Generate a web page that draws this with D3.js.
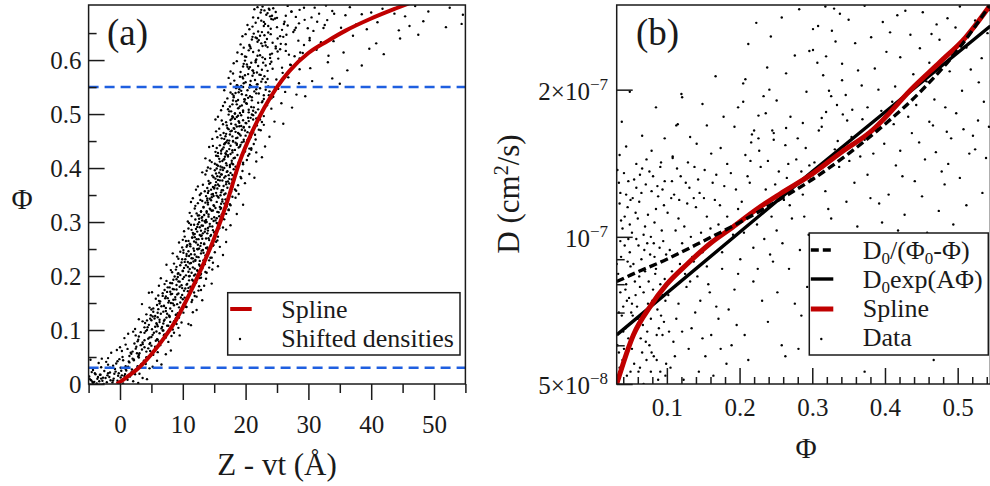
<!DOCTYPE html>
<html>
<head>
<meta charset="utf-8">
<script src="https://cdn.jsdelivr.net/npm/d3@7"></script>
<style>
  body { margin: 0; background: #fff; }
</style>
</head>
<body>
<svg id="chart" width="990" height="486"></svg>
<script>
// ---------- panel (a) data ----------
const zDomain = [-5, 55];
const phiDomainA = [0, 0.702];
const zTicks = [0, 10, 20, 30, 40, 50];
const zMinorTicks = [-5, 5, 15, 25, 35, 45, 55];
const phiTicksA = [0, 0.1, 0.2, 0.3, 0.4, 0.5, 0.6];
const phiMinorTicksA = [0.05, 0.15, 0.25, 0.35, 0.45, 0.55, 0.65];
const phiCutoffs = [0.03, 0.55];

// red spline
const splineZ = [-0.5, 1, 3, 5, 7, 9, 11, 13, 15, 17, 19, 21, 23, 25, 27, 30, 33, 36, 40, 44, 46];
const splinePhi = [0, 0.012, 0.03, 0.055, 0.085, 0.12, 0.165, 0.215, 0.27, 0.335, 0.41, 0.466, 0.512, 0.55, 0.58, 0.613, 0.635, 0.655, 0.677, 0.696, 0.705];

// shifted densities [z, phi], estimated band by band
const shiftedDensities = [
  [-3.2,.017],[-0.4,.006],[1.8,.021],[-4.8,.009],[-1.7,.013],[2.9,.002],[-2.5,.024],[0.7,.015],[-4.1,.004],[-0.9,.019],[3.6,.011],[-3.7,.001],[1.2,.008],[-2.0,.016],[-4.5,.022],[0.1,.012],[-1.2,.003],[2.4,.018],[-3.0,.010],[-4.9,.014],[1.0,.025],[-2.8,.006],[-0.2,.020],[4.3,.009],[-1.5,.007],[-3.9,.018],[0.5,.001],[-2.3,.011],[1.6,.014],[-4.3,.002],[-0.7,.023],[2.1,.005],[-3.5,.013],[-1.9,.020],[0.3,.016],[-4.6,.007],[3.1,.019],[-2.6,.000],[-1.0,.010],[-3.3,.005],
  [1.3,.032],[-2.9,.047],[4.7,.029],[-0.6,.038],[2.2,.044],[-4.3,.026],[0.4,.050],[3.4,.035],[-1.6,.030],[5.9,.043],[-3.4,.039],[1.9,.027],[-0.1,.046],[2.8,.033],[-2.2,.041],[4.1,.037],[0.9,.028],[-4.7,.045],[3.0,.049],[-1.1,.034],[6.6,.036],[1.5,.040],[-3.0,.031],[2.5,.026],[-0.4,.042],[5.2,.032],[-1.9,.048],[3.8,.043],[0.1,.030],[2.0,.047],
  [2.6,.069],[4.9,.053],[0.3,.061],[6.4,.072],[1.8,.056],[3.5,.064],[-1.4,.058],[5.6,.067],[2.9,.051],[0.9,.073],[4.2,.060],[7.3,.055],[1.2,.065],[3.1,.057],[5.0,.071],[-0.5,.063],[2.3,.075],[6.0,.059],[3.9,.068],[1.5,.052],[4.5,.066],[8.1,.062],[2.0,.060],[3.3,.072],[5.3,.054],[0.0,.068],[4.7,.074],[2.7,.057],
  [5.2,.091],[2.8,.079],[7.3,.086],[4.1,.098],[6.0,.082],[1.3,.093],[3.6,.077],[8.6,.095],[5.7,.080],[3.0,.088],[6.8,.099],[4.5,.084],[2.1,.097],[7.7,.078],[5.0,.087],[9.5,.090],[3.9,.081],[6.3,.094],[0.7,.085],[4.8,.076],[7.1,.092],[3.3,.096],[5.9,.083],[8.2,.089],[4.3,.100],[6.5,.077],[2.5,.090],[5.4,.095],
  [7.0,.117],[4.4,.105],[8.9,.122],[5.9,.110],[3.0,.120],[6.6,.103],[9.8,.114],[5.2,.125],[7.7,.108],[4.0,.113],[8.4,.101],[6.3,.119],[10.9,.111],[5.6,.106],[7.4,.123],[3.6,.116],[9.3,.104],[6.9,.112],[4.8,.121],[8.0,.115],[2.4,.102],[6.0,.107],[7.9,.124],[5.0,.118],[11.3,.109],[9.0,.120],
  [6.3,.149],[9.2,.131],[5.0,.138],[7.8,.127],[10.5,.143],[6.9,.134],[8.6,.146],[4.2,.129],[7.3,.141],[9.7,.136],[5.6,.126],[8.1,.150],[11.6,.133],[6.6,.144],[7.5,.130],[10.1,.147],[5.3,.140],[8.9,.128],[12.2,.137],[7.0,.145],[9.4,.142],[6.0,.132],[3.5,.148],[8.3,.135],
  [9.1,.166],[6.4,.153],[10.8,.172],[7.6,.159],[5.1,.170],[8.5,.156],[11.9,.163],[7.1,.174],[9.6,.151],[6.8,.168],[10.3,.160],[8.0,.171],[13.1,.155],[7.3,.162],[9.0,.175],[5.7,.158],[11.4,.152],[8.3,.167],[6.1,.164],[10.0,.157],[4.6,.169],[8.8,.161],[12.5,.173],[7.8,.154],[9.9,.165],
  [8.4,.176],[11.5,.193],[7.1,.185],[10.2,.198],[12.6,.181],[9.3,.190],[6.5,.196],[10.9,.178],[8.0,.187],[13.7,.195],[9.8,.183],[11.1,.200],[7.6,.179],[12.1,.188],[9.0,.194],[10.6,.184],[8.7,.199],[14.6,.186],[10.4,.177],[7.4,.191],[12.9,.197],[9.5,.180],[11.8,.189],[6.2,.182],[11.0,.192],
  [9.6,.202],[12.7,.219],[8.1,.211],[11.3,.224],[13.8,.206],[10.2,.215],[7.4,.221],[12.0,.203],[9.0,.217],[14.7,.212],[10.9,.208],[11.8,.201],[8.6,.223],[13.1,.214],[10.5,.220],[12.4,.209],[9.3,.205],[15.6,.218],[11.1,.213],[8.3,.207],[13.5,.222],[10.0,.210],[12.9,.204],[9.8,.225],[11.6,.216],
  [13.0,.247],[10.4,.231],[11.9,.240],[9.1,.236],[14.2,.229],[12.3,.250],[10.8,.226],[15.1,.244],[11.4,.233],[8.4,.242],[13.6,.238],[12.7,.228],[10.1,.248],[11.0,.237],[14.6,.234],[9.6,.245],[12.0,.230],[16.4,.239],[13.3,.243],[10.6,.241],[11.7,.227],[9.3,.232],[12.5,.235],[14.0,.249],[10.9,.246],
  [11.2,.255],[14.1,.270],[9.4,.262],[12.6,.251],[10.3,.273],[13.4,.259],[15.5,.266],[11.8,.264],[10.7,.257],[13.0,.275],[12.2,.268],[9.9,.253],[14.8,.256],[11.5,.271],[12.9,.261],[10.0,.267],[16.9,.263],[13.7,.252],[11.1,.260],[14.4,.274],[12.4,.258],[10.5,.265],[13.1,.269],[15.9,.254],[11.9,.272],
  [12.4,.296],[15.0,.281],[10.9,.288],[13.6,.299],[11.7,.277],[14.3,.292],[12.9,.284],[16.4,.290],[11.3,.295],[13.9,.279],[12.1,.287],[15.6,.297],[10.2,.283],[14.8,.285],[13.2,.293],[11.6,.280],[17.6,.294],[12.7,.276],[14.0,.289],[11.0,.298],[13.5,.282],[15.3,.278],[12.3,.291],[16.9,.286],[13.8,.300],
  [13.1,.303],[15.7,.318],[11.4,.311],[14.4,.323],[12.6,.306],[16.2,.314],[13.8,.320],[10.8,.301],[15.0,.309],[12.2,.316],[14.9,.302],[17.3,.322],[13.4,.313],[11.9,.325],[16.6,.305],[14.1,.310],[12.9,.319],[15.4,.307],[18.6,.315],[13.7,.304],[11.1,.317],[14.6,.321],[12.4,.312],[16.0,.324],[13.0,.308],
  [14.6,.346],[12.0,.330],[16.3,.338],[13.3,.327],[15.4,.349],[12.8,.341],[17.5,.333],[14.0,.336],[11.6,.344],[15.9,.328],[13.7,.348],[16.8,.342],[12.4,.335],[14.9,.331],[13.1,.339],[18.4,.345],[15.2,.326],[12.7,.350],[16.1,.334],[14.3,.343],[11.3,.337],[17.0,.329],[13.9,.340],[19.6,.332],[15.6,.347],
  [13.5,.357],[16.9,.370],[14.8,.352],[12.4,.366],[17.7,.361],[15.3,.374],[13.9,.363],[16.1,.355],[14.2,.371],[18.5,.358],[15.8,.367],[12.9,.353],[17.2,.375],[14.5,.360],[16.6,.351],[13.2,.369],[15.0,.364],[19.9,.372],[16.4,.359],[14.0,.354],[17.9,.365],[15.5,.362],[12.1,.360],[18.9,.352],[15.2,.368],
  [15.1,.396],[17.4,.380],[13.6,.388],[16.3,.377],[18.6,.393],[14.4,.399],[16.8,.385],[15.6,.378],[13.1,.392],[17.9,.387],[14.9,.383],[16.0,.397],[19.3,.381],[15.3,.390],[14.1,.376],[17.1,.394],[20.6,.389],[16.6,.400],[14.7,.386],[18.2,.379],[15.9,.384],[13.8,.395],[17.6,.391],[21.4,.382],[16.2,.388],
  [16.0,.403],[18.3,.419],[14.6,.411],[17.2,.424],[15.4,.406],[19.1,.415],[16.7,.421],[14.0,.401],[17.8,.409],[15.8,.417],[18.8,.404],[16.3,.413],[20.4,.423],[15.1,.408],[17.5,.402],[13.6,.418],[19.6,.410],[16.9,.425],[14.3,.414],[18.0,.407],[15.6,.422],[21.7,.412],[17.0,.405],[16.5,.416],[22.6,.420],
  [17.3,.446],[15.2,.430],[18.9,.438],[16.1,.427],[19.7,.449],[14.8,.441],[17.9,.433],[16.6,.444],[20.6,.436],[15.6,.428],[18.4,.447],[17.0,.431],[14.2,.439],[19.2,.443],[16.3,.435],[21.7,.429],[18.0,.450],[15.9,.442],[17.6,.426],[23.1,.440],[16.9,.448],[19.9,.432],[15.4,.437],[18.6,.445],[20.9,.434],
  [16.2,.455],[19.4,.471],[17.5,.462],[15.3,.468],[20.3,.452],[18.1,.474],[16.8,.459],[21.2,.466],[17.1,.451],[19.0,.463],[15.8,.473],[18.7,.456],[22.4,.470],[16.5,.465],[20.0,.460],[14.7,.454],[17.8,.469],[19.7,.475],[16.0,.461],[23.8,.458],[18.4,.467],[21.6,.453],[17.3,.472],[15.5,.457],[20.7,.464],
  [18.0,.494],[16.4,.481],[20.5,.487],[17.3,.499],[19.3,.478],[21.7,.492],[16.9,.485],[18.8,.497],[22.9,.480],[17.6,.489],[20.1,.483],[15.6,.495],[19.7,.476],[18.3,.491],[24.6,.486],[17.0,.479],[21.2,.498],[16.2,.488],[19.0,.484],[20.8,.493],[26.0,.482],[18.6,.477],[17.9,.496],[22.3,.490],[15.2,.490],
  [17.7,.505],[20.2,.519],[18.9,.511],[16.7,.522],[21.6,.503],[19.4,.516],[17.2,.509],[22.7,.524],[18.3,.501],[20.9,.513],[16.1,.507],[19.8,.523],[24.1,.510],[18.6,.518],[21.2,.506],[17.5,.514],[25.7,.520],[19.1,.502],[23.3,.517],[18.0,.525],[20.5,.508],[27.4,.512],[16.4,.515],[22.0,.521],[19.6,.504],
  [18.5,.548],[21.0,.531],[17.6,.540],[19.9,.527],[23.2,.545],[18.1,.534],[20.6,.549],[22.1,.538],[17.1,.529],[19.3,.543],[24.4,.532],[18.8,.526],[21.7,.546],[20.1,.535],[26.3,.541],[17.9,.537],[22.9,.528],[19.6,.550],[28.1,.536],[21.4,.542],[16.6,.544],[20.4,.530],[25.2,.547],[18.4,.539],[29.5,.533],[23.7,.535],
  [19.1,.569],[21.8,.555],[18.2,.562],[20.4,.574],[23.6,.551],[19.6,.566],[22.5,.560],[17.6,.556],[21.1,.571],[24.9,.564],[18.7,.553],[20.0,.559],[26.8,.568],[22.2,.573],[19.3,.552],[17.3,.567],[21.5,.563],[28.5,.557],[20.7,.554],[23.0,.570],[18.0,.575],[30.6,.561],[19.9,.572],[25.6,.558],[33.8,.566],[22.7,.565],[35.0,.556],
  [22.0,.589],[19.2,.578],[24.1,.597],[20.5,.584],[18.1,.594],[21.3,.576],[27.2,.591],[19.9,.599],[22.6,.582],[19.6,.588],[23.5,.580],[20.9,.595],[30.3,.585],[20.2,.592],[21.8,.577],[18.6,.598],[25.8,.586],[21.1,.581],[19.7,.593],[23.2,.590],[17.6,.579],[21.6,.596],[28.6,.583],[20.7,.587],[23.9,.593],[33.1,.596],[36.2,.581],[38.5,.590],
  [20.8,.622],[23.9,.604],[19.4,.611],[26.4,.617],[21.7,.601],[24.8,.625],[22.3,.609],[29.1,.613],[20.1,.606],[25.5,.620],[23.1,.602],[21.2,.615],[27.8,.607],[19.7,.623],[24.2,.612],[31.3,.619],[22.7,.605],[20.5,.618],[26.9,.610],[23.5,.624],[35.6,.614],[21.9,.608],[28.6,.603],[39.7,.621],[25.1,.616],[18.7,.614],[33.2,.608],[42.0,.611],
  [23.4,.639],[20.6,.628],[26.5,.647],[21.9,.634],[19.5,.644],[22.7,.626],[30.2,.641],[21.3,.649],[24.3,.632],[21.0,.638],[25.6,.630],[22.3,.645],[34.0,.635],[21.6,.642],[23.2,.627],[20.0,.648],[28.4,.636],[22.5,.631],[21.1,.643],[25.1,.640],[19.2,.629],[23.0,.646],[32.0,.633],[22.1,.637],[26.0,.643],[37.1,.645],[40.8,.631],[44.6,.640],[47.5,.647],[29.3,.628],
  [22.5,.673],[25.8,.656],[21.1,.662],[28.5,.668],[23.6,.651],[31.4,.671],[20.6,.657],[26.7,.664],[24.4,.675],[22.0,.653],[35.2,.660],[27.6,.652],[23.1,.667],[41.0,.670],[29.9,.659],[21.6,.669],[25.0,.661],[33.0,.674],[44.4,.655],[24.0,.658],[37.6,.666],[48.3,.672],[22.9,.663],[30.8,.654],[51.9,.661],[26.2,.671],[39.3,.657],[54.4,.667],[20.3,.665],[46.1,.663],[28.0,.660],[32.6,.665],
  [24.8,.689],[22.0,.678],[29.3,.697],[23.3,.684],[21.4,.694],[24.1,.676],[33.8,.691],[22.7,.699],[26.4,.682],[22.4,.688],[28.0,.680],[23.7,.695],[38.5,.685],[23.0,.692],[24.7,.677],[21.9,.698],[31.7,.686],[23.9,.681],[22.5,.693],[27.3,.690],[21.2,.679],[24.4,.696],[35.9,.683],[23.5,.687],[28.6,.693],[41.8,.695],[45.4,.681],[49.1,.690],[52.5,.697],[54.6,.684],[30.5,.679],[40.0,.688],[47.0,.700],[36.6,.698],[43.7,.686],[32.8,.701]
];

// extra points in the dense core of the band
const shiftedDensitiesCore = [
  [-4.4,.0042],[-2.7,.0118],[-1.1,.0065],[0.8,.0183],[-3.6,.0097],[-0.3,.0152],[1.9,.0227],[-4.0,.0201],[-2.1,.0033],[0.2,.0246],[-1.6,.0214],[2.7,.0289],[-3.1,.0170],[0.9,.0331],[-0.8,.0278],[3.4,.0372],[1.4,.0416],[-1.9,.0358],[2.2,.0453],[4.2,.0497],[0.5,.0440],[3.0,.0539],[1.7,.0581],[4.8,.0612],[2.5,.0655],[5.6,.0693],[3.6,.0738],[6.2,.0784],[2.9,.0821],[4.7,.0862],[7.0,.0905],[3.9,.0947],[5.8,.0972],[6.9,.0991],
  [5.1,.1013],[8.2,.1027],[3.9,.1049],[6.7,.1058],[7.5,.1081],[4.6,.1096],[9.0,.1112],[5.8,.1125],[6.3,.1147],[8.6,.1161],[4.3,.1178],[7.1,.1190],[5.5,.1212],[9.4,.1229],[6.0,.1235],[7.9,.1258],[4.9,.1274],[8.9,.1283],[6.5,.1301],[10.1,.1322],[5.3,.1337],[7.3,.1351],[9.6,.1369],[6.1,.1386],[8.0,.1398],[4.7,.1415],[10.6,.1427],[7.0,.1443],[5.9,.1462],[9.1,.1479],[8.4,.1494],
  [7.7,.1508],[10.4,.1521],[6.2,.1540],[11.5,.1556],[8.8,.1567],[7.2,.1589],[9.7,.1601],[12.2,.1618],[6.8,.1632],[10.9,.1649],[8.1,.1663],[9.3,.1677],[11.8,.1695],[7.5,.1706],[10.2,.1729],[12.9,.1741],[8.6,.1753],[9.9,.1776],[7.9,.1789],[11.2,.1802],[13.4,.1820],[9.0,.1834],[10.7,.1851],[8.3,.1867],[12.1,.1880],[9.5,.1896],[11.6,.1914],[8.5,.1932],[10.0,.1947],[12.7,.1963],[9.2,.1981],[11.0,.1995],
  [10.5,.2012],[12.8,.2024],[9.2,.2043],[11.4,.2061],[13.6,.2075],[10.0,.2090],[12.3,.2108],[8.9,.2119],[11.9,.2137],[14.2,.2156],[10.8,.2168],[13.0,.2187],[9.6,.2199],[12.6,.2213],[11.1,.2234],[14.8,.2246],[10.3,.2262],[12.0,.2281],[13.3,.2294],[9.9,.2310],[11.6,.2327],[14.4,.2339],[12.2,.2356],[10.6,.2372],[13.8,.2388],[11.3,.2403],[12.9,.2419],[10.1,.2431],[14.0,.2452],[11.8,.2467],[13.2,.2484],[12.4,.2497],
  [11.7,.2511],[13.9,.2529],[10.6,.2540],[12.8,.2558],[14.9,.2573],[11.2,.2586],[13.4,.2602],[12.1,.2620],[15.3,.2634],[10.9,.2651],[14.2,.2665],[12.5,.2683],[13.7,.2694],[11.5,.2716],[15.6,.2729],[12.9,.2742],[14.5,.2760],[11.9,.2778],[13.2,.2790],[15.0,.2809],[12.3,.2823],[14.0,.2841],[11.4,.2855],[13.6,.2872],[15.8,.2886],[12.7,.2903],[14.7,.2918],[13.0,.2935],[11.8,.2950],[14.3,.2966],[15.4,.2983],[12.6,.2998],
  [13.5,.3014],[15.2,.3030],[12.0,.3047],[14.6,.3059],[16.4,.3077],[13.1,.3092],[15.8,.3106],[12.6,.3124],[14.1,.3139],[16.9,.3152],[13.8,.3170],[15.5,.3188],[12.9,.3201],[14.8,.3215],[17.3,.3232],[14.3,.3249],[16.1,.3262],[13.3,.3281],[15.0,.3296],[17.6,.3310],[14.0,.3327],[16.6,.3341],[13.6,.3359],[15.4,.3373],[17.0,.3391],[14.5,.3404],[16.3,.3419],[13.9,.3437],[15.7,.3452],[17.9,.3468],[14.9,.3483],[16.0,.3497],
  [14.6,.3512],[16.8,.3528],[15.3,.3541],[17.7,.3560],[14.1,.3574],[16.2,.3589],[18.3,.3603],[15.0,.3621],[17.1,.3636],[14.8,.3650],[16.5,.3667],[18.8,.3681],[15.6,.3695],[17.4,.3713],[14.4,.3726],[16.9,.3744],[18.0,.3759],[15.9,.3771],[17.8,.3790],[15.2,.3804],[16.6,.3822],[19.2,.3837],[15.5,.3850],[17.3,.3868],[16.1,.3882],[18.5,.3897],[15.8,.3915],[17.0,.3929],[19.5,.3946],[16.4,.3962],[18.1,.3977],[15.4,.3991],
  [16.3,.4011],[18.4,.4026],[15.6,.4042],[17.5,.4057],[19.6,.4070],[16.9,.4088],[18.9,.4103],[15.9,.4119],[17.8,.4135],[20.2,.4150],[16.6,.4164],[18.1,.4181],[19.3,.4196],[17.2,.4212],[15.3,.4228],[18.7,.4241],[20.6,.4259],[16.8,.4274],[17.9,.4290],[19.9,.4305],[16.1,.4319],[18.3,.4336],[17.4,.4351],[20.9,.4367],[16.5,.4382],[19.1,.4398],[17.6,.4413],[18.6,.4429],[21.3,.4444],[16.7,.4460],[19.4,.4476],[18.0,.4491],
  [17.4,.4508],[19.7,.4523],[16.6,.4540],[18.5,.4554],[20.8,.4571],[17.9,.4586],[19.2,.4602],[21.5,.4617],[16.9,.4633],[18.8,.4648],[20.3,.4665],[17.6,.4680],[19.9,.4696],[22.1,.4711],[18.2,.4727],[17.1,.4743],[20.6,.4759],[19.0,.4774],[21.8,.4790],[18.4,.4805],[17.7,.4821],[20.0,.4837],[22.6,.4852],[18.9,.4868],[19.6,.4884],[21.2,.4899],[17.8,.4915],[20.4,.4931],[18.6,.4946],[22.9,.4962],[19.3,.4977],[21.0,.4993],
  [18.3,.5011],[20.5,.5032],[17.4,.5050],[19.6,.5068],[22.0,.5087],[18.8,.5106],[21.3,.5124],[19.1,.5143],[23.4,.5161],[17.9,.5180],[20.1,.5199],[22.6,.5217],[18.5,.5236],[21.0,.5254],[19.8,.5273],[24.1,.5291],[18.1,.5310],[20.7,.5329],[22.9,.5347],[19.4,.5366],[21.7,.5384],[18.9,.5403],[23.8,.5421],[20.3,.5440],[19.0,.5459],[22.3,.5477],[24.6,.5496],[20.9,.5514],[18.6,.5533],[21.9,.5551],[19.7,.5570],[23.2,.5589],
  [20.8,.5612],[23.5,.5650],[19.5,.5688],[22.4,.5725],[25.9,.5763],[21.2,.5801],[24.3,.5839],[20.3,.5876],[27.1,.5914],[22.8,.5952],[21.6,.5990],[25.2,.6027],[19.9,.6065],[23.9,.6103],[28.7,.6141],[22.1,.6178],[24.8,.6216],[20.7,.6254],[26.4,.6292],[23.1,.6329],[30.2,.6367],[21.8,.6405],[25.5,.6443],[24.0,.6480],[22.6,.6518],[27.8,.6556],[32.4,.6594],[23.6,.6631],[26.1,.6669],[22.9,.6707],[29.4,.6745],[25.0,.6782],[24.2,.6820],[34.1,.6858],[27.3,.6896],[23.8,.6933],[31.0,.6971],[26.7,.7003]
];

// ---------- panel (b) data (D in units of 1e-8 cm^2/s) ----------
const phiDomainB = [0.031, 0.545];
const dDomain = [5, 29.8];
const phiTicksB = [0.1, 0.2, 0.3, 0.4, 0.5];
const phiMinorTicksB = [0.04, 0.06, 0.08, 0.12, 0.14, 0.16, 0.18, 0.22, 0.24, 0.26, 0.28, 0.32, 0.34, 0.36, 0.38, 0.42, 0.44, 0.46, 0.48, 0.52, 0.54];
const dTicks = [5, 10, 20];
const dTickMantissa = ["5×10", "10", "2×10"];
const dTickExponent = ["−8", "−7", "−7"];
const dMinorTicks = [6, 7, 8, 9];

const hyperPhi = [0.031, 0.05, 0.1, 0.15, 0.2, 0.25, 0.3, 0.35, 0.4, 0.45, 0.5, 0.545];
const hyperD = [8.1, 8.35, 9.0, 9.8, 10.7, 11.8, 13.1, 14.8, 17.0, 19.9, 24.1, 29.9];
const expPhi = [0.031, 0.3, 0.545];
const expD = [6.3, 13.6, 27.0];
const splinePhiB = [0.031, 0.054, 0.077, 0.1, 0.128, 0.16, 0.19, 0.224, 0.256, 0.3, 0.34, 0.38, 0.44, 0.476, 0.51, 0.545];
const splineDB = [5.0, 6.3, 7.2, 8.0, 8.8, 9.7, 10.45, 11.4, 12.25, 13.45, 14.9, 16.4, 20.3, 22.8, 25.5, 29.8];

// data points [phi, D]
const diffusionData = [
  [.047,6.2],[.083,9.1],[.036,7.7],[.061,5.3],[.092,6.9],[.054,8.8],[.039,5.6],[.074,7.3],[.088,5.1],[.042,9.6],[.067,6.6],[.097,8.2],[.051,7.0],[.033,8.4],[.079,5.8],[.058,9.9],[.094,7.6],[.045,5.2],[.070,8.5],[.086,6.3],[.038,6.9],[.063,7.9],[.099,5.5],[.049,9.3],[.076,6.0],[.035,5.4],[.090,9.5],[.056,6.4],[.081,7.8],[.044,8.0],[.068,5.0],[.096,6.7],[.052,5.9],[.073,9.7],[.040,7.2],[.085,8.6],[.060,6.8],[.032,6.0],[.078,5.3],[.093,8.9],[.048,7.5],[.065,9.0],[.037,9.1],[.087,7.1],[.055,5.5],[.071,6.1],[.098,7.4],[.043,6.5],[.062,8.3],[.082,5.7],[.050,8.7],[.034,7.0],[.075,8.1],[.091,5.3],[.059,7.2],[.041,5.9],[.069,9.4],[.089,6.5],[.046,8.9],[.066,5.8],[.095,9.8],[.053,6.9],[.080,7.4],[.036,9.8],[.072,5.6],[.057,7.6],[.084,8.4],[.039,8.2],[.064,6.2],[.098,5.2],[.050,5.3],[.077,9.2],[.043,7.8],[.091,8.0],[.061,9.6],[.034,5.8],[.086,5.6],[.068,7.7],[.047,9.9],[.094,6.3],[.056,8.1],[.073,6.4],[.040,6.4],[.082,9.7],[.063,5.4],[.031,8.8],[.099,9.2],[.052,7.3],[.078,6.8],[.045,7.4],
  [.058,12.6],[.037,10.8],[.081,13.3],[.046,11.5],[.093,10.3],[.066,13.8],[.034,12.9],[.074,11.1],[.052,10.2],[.088,12.1],[.041,13.5],[.062,11.8],[.097,13.0],[.049,10.6],[.079,12.4],[.035,11.7],[.068,10.1],[.085,11.4],[.055,13.1],[.044,12.2],[.091,13.9],[.071,12.8],[.039,10.4],[.060,10.9],[.083,10.7],[.050,11.9],[.096,11.6],[.065,12.3],[.032,13.7],[.076,13.6],[.047,13.0],[.087,12.7],[.057,11.2],[.042,11.0],[.070,10.5],[.094,12.5],[.053,12.0],[.078,10.0],[.036,12.3],[.063,13.4],
  [.044,15.3],[.072,14.4],[.038,17.2],[.097,15.9],[.058,14.1],[.085,18.4],[.066,16.1],[.049,19.8],[.108,14.6],[.115,17.0],[.079,15.0],[.035,14.7],[.120,19.6],[.092,14.2],
  [.113,6.8],[.142,8.3],[.105,5.4],[.168,7.2],[.127,7.9],[.189,6.0],[.118,8.8],[.153,5.7],[.134,6.5],[.176,8.6],[.102,7.6],[.161,6.3],[.146,7.4],[.123,5.1],[.193,7.8],[.109,6.1],[.137,8.9],[.182,5.5],[.157,8.0],[.130,5.9],[.171,6.8],[.116,7.3],[.149,6.2],[.198,8.4],[.107,8.5],[.164,5.2],[.139,7.0],[.121,6.4],[.185,7.1],[.155,8.7],[.111,5.7],[.174,5.9],[.132,8.1],[.196,6.6],[.144,5.3],[.125,8.4],[.159,7.7],[.103,6.4],
  [.128,11.7],[.104,9.4],[.163,12.9],[.147,10.2],[.119,13.3],[.183,11.0],[.135,9.1],[.110,12.2],[.171,10.6],[.152,13.7],[.124,10.5],[.195,12.5],[.140,11.5],[.107,13.0],[.158,9.6],[.188,13.5],[.131,12.6],[.116,10.9],[.176,9.3],[.145,12.3],[.101,11.2],[.166,11.9],[.138,13.9],[.121,9.7],[.191,10.1],[.155,11.0],[.112,10.3],[.179,12.7],[.133,10.0],[.149,9.3],[.126,12.9],[.168,13.4],[.106,12.0],[.186,9.8],[.143,13.1],[.117,11.9],[.160,10.4],[.198,11.4],[.137,12.0],[.173,11.6],[.114,13.8],[.151,12.0],
  [.132,16.0],[.108,14.5],[.174,15.2],[.149,18.7],[.215,14.3],[.121,19.3],[.193,16.8],[.161,14.8],[.236,17.9],[.141,15.5],[.205,20.6],[.183,14.1],[.226,15.9],[.113,16.9],[.167,21.3],[.247,16.3],[.155,16.9],[.198,18.4],[.129,14.2],[.241,20.0],[.178,17.6],[.220,16.5],
  [.231,7.4],[.268,8.6],[.207,6.3],[.285,6.9],[.246,8.9],[.219,8.1],[.293,7.9],[.258,6.0],[.276,7.3],[.212,5.6],[.239,6.7],[.298,8.5],[.263,5.7],[.225,8.6],[.281,5.9],[.252,7.7],
  [.236,12.5],[.272,10.9],[.208,14.7],[.254,13.6],[.287,12.2],[.219,9.5],[.263,15.4],[.295,10.1],[.244,11.0],[.203,11.8],[.278,14.4],[.229,13.9],[.259,9.7],[.291,15.2],[.214,12.9],[.247,15.8],[.269,11.6],[.224,10.6],[.283,9.4],[.239,14.3],[.298,13.1],[.206,10.2],[.265,13.2],[.251,10.3],[.232,11.4],[.289,11.0],[.216,15.6],[.274,12.7],[.242,9.2],[.296,14.0],[.227,15.0],[.261,11.9],[.211,13.3],[.280,15.9],[.249,12.8],[.234,9.9],[.267,14.1],[.201,9.0],[.285,13.6],[.221,11.3],
  [.233,19.4],[.287,17.1],[.212,24.8],[.264,21.6],[.319,18.0],[.245,16.5],[.301,26.6],[.226,17.7],[.341,20.9],[.276,23.5],[.205,18.9],[.258,28.1],[.313,16.8],[.238,22.2],[.292,19.8],[.332,25.1],[.217,16.2],[.270,17.6],[.348,17.3],[.251,19.0],[.307,22.7],[.223,27.4],[.282,29.2],[.338,28.6],[.264,16.7],[.296,24.0],[.326,19.4],[.243,25.7],[.208,21.0],[.318,29.6],
  [.318,12.4],[.447,15.6],[.362,10.5],[.503,13.2],[.389,16.7],[.331,15.1],[.474,11.3],[.415,14.0],[.528,17.3],[.347,11.8],[.432,17.6],[.309,16.5],[.491,15.9],[.376,13.4],[.458,10.2],[.405,12.2],[.539,14.5],[.354,16.0],[.482,12.8],[.326,10.9],[.421,15.0],[.512,11.6],[.369,17.4],[.441,13.0],[.396,10.7],[.466,16.9],[.337,13.9],[.521,16.1],[.384,14.8],[.498,17.9],[.303,14.2],[.451,12.1],[.412,17.0],[.358,12.9],[.534,12.3],[.427,11.1],[.487,14.1],[.342,17.8],[.470,14.9],[.399,15.5],[.322,11.4],[.516,14.8],[.372,15.8],[.437,16.3],[.508,16.6],[.351,14.3],[.461,17.2],[.392,11.7],[.543,16.8],[.313,17.5],[.478,13.6],[.424,13.3],[.380,12.0],[.494,10.6],[.335,15.7],[.455,14.4],[.524,15.1],[.366,14.6],[.418,10.3],[.485,16.4],
  [.341,22.6],[.468,19.1],[.397,27.5],[.512,24.4],[.323,19.9],[.435,25.9],[.376,18.4],[.529,20.7],[.452,28.8],[.359,24.9],[.489,21.8],[.308,27.0],[.414,20.3],[.541,26.1],[.386,22.1],[.475,25.3],[.330,29.3],[.443,18.6],[.503,29.6],[.368,20.4],[.421,23.3],[.536,18.9],[.315,21.4],[.461,22.7],[.395,18.1],[.497,26.8],[.350,27.8],[.428,29.0],[.518,22.0],[.381,25.6],[.457,20.8],[.334,18.6],[.407,26.2],[.483,18.4],[.363,21.9],[.544,29.1],[.439,21.5],[.301,24.1],[.471,27.2],[.391,20.0],[.524,27.7],[.346,19.5],[.417,28.4],[.506,19.9],[.372,29.7],[.448,24.3],[.327,26.4],[.492,23.6],[.402,23.9],[.533,23.2],[.355,18.2],[.464,26.0],[.410,18.9],[.486,28.0],[.319,23.4],
  [.313,8.3],[.352,9.6],[.339,6.7],[.381,7.5],[.404,9.2],[.426,6.0],[.449,8.7],[.467,5.6],[.493,9.5],[.517,7.1],[.538,9.9],[.372,5.3],[.435,9.9],[.481,7.6],[.505,5.8]
];

// ---------- drawing ----------
const svg = d3.select("#chart");
const INK = "#1a1a1a";
const RED = "#c00000";
const BLUE = "#1f5fe0";
const defs = svg.append("defs");

function styleAxis(g, size) {
  g.attr("font-family", null);
  g.select(".domain").remove();
  g.selectAll(".tick line").attr("stroke", INK).attr("stroke-width", 1.5);
  g.selectAll(".tick text").attr("font-size", size).attr("fill", INK);
}

//// panel (a)
const xA = d3.scaleLinear().domain(zDomain).range([88.6, 465.4]);
const yA = d3.scaleLinear().domain(phiDomainA).range([384, 5]);

defs.append("clipPath").attr("id", "clipA").append("rect")
  .attr("x", xA.range()[0]).attr("y", yA.range()[1])
  .attr("width", xA.range()[1] - xA.range()[0]).attr("height", yA.range()[0] - yA.range()[1]);

const gA = svg.append("g");
const plotA = gA.append("g").attr("clip-path", "url(#clipA)");

plotA.append("g").selectAll("circle")
  .data(shiftedDensities.concat(shiftedDensitiesCore))
  .join("circle")
  .attr("cx", d => xA(d[0]))
  .attr("cy", d => yA(d[1]))
  .attr("r", 1.2)
  .attr("fill", "#000");

plotA.append("g").selectAll("line")
  .data(phiCutoffs)
  .join("line")
  .attr("x1", xA(zDomain[0])).attr("x2", xA(zDomain[1]))
  .attr("y1", d => yA(d)).attr("y2", d => yA(d))
  .attr("stroke", BLUE).attr("stroke-width", 2.5)
  .attr("stroke-dasharray", "10,6");

const splineA = d3.line().x(d => xA(d[0])).y(d => yA(d[1])).curve(d3.curveMonotoneX);
plotA.append("path")
  .attr("d", splineA(d3.zip(splineZ, splinePhi)))
  .attr("fill", "none").attr("stroke", RED).attr("stroke-width", 4);

gA.append("g").attr("transform", "translate(0,384)")
  .call(d3.axisBottom(xA).tickValues(zTicks).tickSize(16).tickPadding(15).tickFormat(d3.format("d")))
  .call(g => styleAxis(g, 25));
gA.append("g").attr("transform", "translate(0,384)")
  .call(d3.axisBottom(xA).tickValues(zMinorTicks).tickSize(9).tickFormat(""))
  .call(g => styleAxis(g, 25));
gA.append("g").attr("transform", `translate(${xA.range()[0]},0)`)
  .call(d3.axisLeft(yA).tickValues(phiTicksA).tickSizeInner(-16).tickSizeOuter(0).tickPadding(7)
    .tickFormat(d => d === 0 ? "0" : d3.format(".1f")(d)))
  .call(g => styleAxis(g, 25));
gA.append("g").attr("transform", `translate(${xA.range()[0]},0)`)
  .call(d3.axisLeft(yA).tickValues(phiMinorTicksA).tickSizeInner(-8).tickSizeOuter(0).tickFormat(""))
  .call(g => styleAxis(g, 25));

gA.append("rect")
  .attr("x", xA.range()[0]).attr("y", yA.range()[1])
  .attr("width", xA.range()[1] - xA.range()[0]).attr("height", yA.range()[0] - yA.range()[1])
  .attr("fill", "none").attr("stroke", INK).attr("stroke-width", 1.5);

gA.append("text").attr("x", 107).attr("y", 45).attr("font-size", 37).text("(a)");
gA.append("text").attr("x", 277).attr("y", 475).attr("text-anchor", "middle").attr("font-size", 31).text("Z - vt (Å)");
gA.append("text").attr("x", 22).attr("y", 209).attr("text-anchor", "middle").attr("font-size", 29).text("Φ");

// legend (a)
const legA = gA.append("g").attr("transform", "translate(227.7,292.7)");
legA.append("rect").attr("width", 232.3).attr("height", 62.3)
  .attr("fill", "#fff").attr("stroke", INK).attr("stroke-width", 1.5);
legA.append("line").attr("x1", 2.5).attr("x2", 24).attr("y1", 16.3).attr("y2", 16.3)
  .attr("stroke", RED).attr("stroke-width", 4);
legA.append("text").attr("x", 53.5).attr("y", 25.5).attr("font-size", 26).text("Spline");
legA.append("circle").attr("cx", 12.3).attr("cy", 46.3).attr("r", 1.2).attr("fill", "#000");
legA.append("text").attr("x", 53.5).attr("y", 54.5).attr("font-size", 26).text("Shifted densities");

//// panel (b)
const xB = d3.scaleLinear().domain(phiDomainB).range([616.7, 990.4]);
const yB = d3.scaleLog().domain(dDomain).range([384, 5]);

defs.append("clipPath").attr("id", "clipB").append("rect")
  .attr("x", xB.range()[0]).attr("y", yB.range()[1])
  .attr("width", xB.range()[1] - xB.range()[0]).attr("height", yB.range()[0] - yB.range()[1]);

const gB = svg.append("g");
const plotB = gB.append("g").attr("clip-path", "url(#clipB)");

plotB.append("g").selectAll("circle")
  .data(diffusionData)
  .join("circle")
  .attr("cx", d => xB(d[0]))
  .attr("cy", d => yB(d[1]))
  .attr("r", 1.2)
  .attr("fill", "#000");

const lineB = d3.line().x(d => xB(d[0])).y(d => yB(d[1])).curve(d3.curveMonotoneX);
plotB.append("path")
  .attr("d", lineB(d3.zip(expPhi, expD)))
  .attr("fill", "none").attr("stroke", "#000").attr("stroke-width", 3.4);
plotB.append("path")
  .attr("d", lineB(d3.zip(splinePhiB, splineDB)))
  .attr("fill", "none").attr("stroke", RED).attr("stroke-width", 5);
plotB.append("path")
  .attr("d", lineB(d3.zip(hyperPhi, hyperD)))
  .attr("fill", "none").attr("stroke", "#000").attr("stroke-width", 3.4)
  .attr("stroke-dasharray", "8,4");

gB.append("g").attr("transform", "translate(0,384)")
  .call(d3.axisBottom(xB).tickValues(phiTicksB).tickSizeInner(-16).tickSizeOuter(0).tickPadding(14)
    .tickFormat(d3.format(".1f")))
  .call(g => styleAxis(g, 25));
gB.append("g").attr("transform", "translate(0,384)")
  .call(d3.axisBottom(xB).tickValues(phiMinorTicksB).tickSizeInner(-7).tickSizeOuter(0).tickFormat(""))
  .call(g => styleAxis(g, 25));
gB.append("g").attr("transform", `translate(${xB.range()[0]},0)`)
  .call(d3.axisLeft(yB).tickValues(dTicks).tickSizeInner(-16).tickSizeOuter(0).tickFormat(""))
  .call(g => styleAxis(g, 25));
gB.append("g").attr("transform", `translate(${xB.range()[0]},0)`)
  .call(d3.axisLeft(yB).tickValues(dMinorTicks).tickSizeInner(-8).tickSizeOuter(0).tickFormat(""))
  .call(g => styleAxis(g, 25));

// power-of-ten tick labels
const dLabels = gB.append("g").selectAll("text")
  .data(dTicks)
  .join("text")
  .attr("x", 608)
  .attr("y", d => yB(d) + 10)
  .attr("text-anchor", "end")
  .attr("font-size", 25);
dLabels.append("tspan").text((d, i) => dTickMantissa[i]);
dLabels.append("tspan").attr("dy", -10).attr("font-size", 17).text((d, i) => dTickExponent[i]);

gB.append("rect")
  .attr("x", xB.range()[0]).attr("y", yB.range()[1])
  .attr("width", xB.range()[1] - xB.range()[0]).attr("height", yB.range()[0] - yB.range()[1])
  .attr("fill", "none").attr("stroke", INK).attr("stroke-width", 1.5);

gB.append("text").attr("x", 636).attr("y", 45).attr("font-size", 37).text("(b)");
gB.append("text").attr("x", 806).attr("y", 458).attr("text-anchor", "middle").attr("font-size", 29).text("Φ");

const dTitle = gB.append("text")
  .attr("transform", "translate(519,194) rotate(-90)")
  .attr("text-anchor", "middle").attr("font-size", 31);
dTitle.append("tspan").text("D (cm");
dTitle.append("tspan").attr("dy", -11).attr("font-size", 20).text("2");
dTitle.append("tspan").attr("dy", 11).text("/s)");

// legend (b)
const legB = gB.append("g").attr("transform", "translate(809.3,233)");
legB.append("rect").attr("width", 179).attr("height", 122)
  .attr("fill", "#fff").attr("stroke", INK).attr("stroke-width", 1.5);

const legRows = [
  { y: 17, kind: "dash" },
  { y: 46, kind: "solid" },
  { y: 76, kind: "red" },
  { y: 106, kind: "dot" }
];
legRows.forEach(r => {
  if (r.kind === "dot") {
    legB.append("circle").attr("cx", 12).attr("cy", r.y).attr("r", 1.2).attr("fill", "#000");
  } else {
    legB.append("line").attr("x1", 1.5).attr("x2", 24).attr("y1", r.y).attr("y2", r.y)
      .attr("stroke", r.kind === "red" ? RED : "#000")
      .attr("stroke-width", r.kind === "red" ? 5 : 3.4)
      .attr("stroke-dasharray", r.kind === "dash" ? "8,4" : null);
  }
});

const tx = 53.4;
const t1 = legB.append("text").attr("x", tx).attr("y", 26).attr("font-size", 26);
t1.append("tspan").text("D");
t1.append("tspan").attr("dy", 5).attr("font-size", 17).text("0");
t1.append("tspan").attr("dy", -5).text("/(Φ");
t1.append("tspan").attr("dy", 5).attr("font-size", 17).text("0");
t1.append("tspan").attr("dy", -5).text("-Φ)");

const t2 = legB.append("text").attr("x", tx).attr("y", 55).attr("font-size", 26);
t2.append("tspan").text("D");
t2.append("tspan").attr("dy", 5).attr("font-size", 17).text("0");
t2.append("tspan").attr("dy", -5).text("exp(AΦ)");

legB.append("text").attr("x", tx).attr("y", 84).attr("font-size", 26).text("Spline");
legB.append("text").attr("x", tx).attr("y", 113).attr("font-size", 26).text("Data");

// serif face for every label, set on each text element
svg.selectAll("text").style("font-family", '"Liberation Serif"').attr("fill", INK);
</script>
</body>
</html>
